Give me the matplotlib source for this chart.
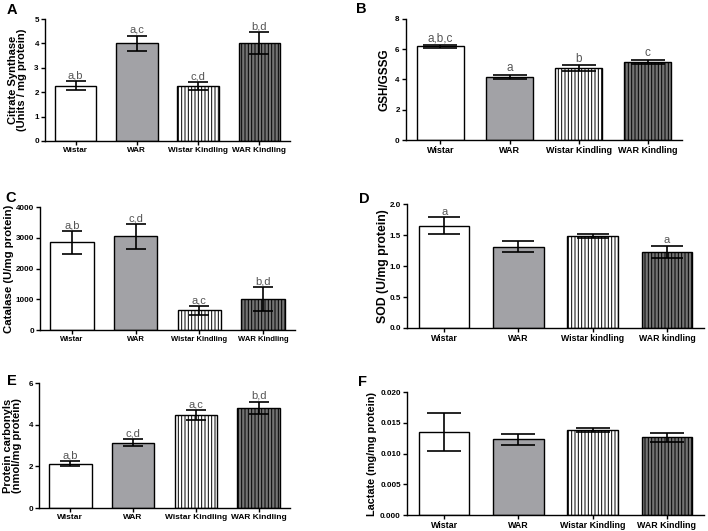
import numpy as np
import matplotlib.pyplot as plt

plt.rcParams['font.family'] = ['Liberation Sans', 'DejaVu Sans']
plt.rcParams['hatch.linewidth'] = 0.7

groups = ['Wistar', 'WAR', 'Wistar Kindling', 'WAR Kindling']
groups_lower = ['Wistar', 'WAR', 'Wistar kindling', 'WAR kindling']

cs_mean = [2.27, 4.00, 2.25, 4.00]
cs_err = [0.19, 0.32, 0.17, 0.45]
cs_marks = ['a,b', 'a,c', 'c,d', 'b,d']

gsh_mean = [6.18, 4.17, 4.75, 5.17]
gsh_err = [0.12, 0.14, 0.20, 0.13]
gsh_marks = ['a,b,c', 'a', 'b', 'c']

cat_mean = [2850, 3050, 636, 1010]
cat_err = [375, 405, 145, 400]
cat_marks = ['a,b', 'c,d', 'a,c', 'b,d']

sod_mean = [1.65, 1.31, 1.485, 1.233]
sod_err = [0.135, 0.086, 0.037, 0.097]
sod_marks = ['a', '', '', 'a']

pc_mean = [2.13, 3.13, 4.46, 4.81]
pc_err = [0.11, 0.16, 0.25, 0.30]
pc_marks = ['a,b', 'c,d', 'a,c', 'b,d']

lac_mean = [0.01355, 0.0123, 0.01382, 0.01263]
lac_err = [0.0031, 0.00095, 0.00028, 0.0007]

colors = ['white', '#a2a2a6', 'white', '#747474']
hatches = [None, None, '|||||', '|||||']
narrow = ['Liberation Sans Narrow', 'Liberation Sans']


def bar_panel(ax, mean, err, marks, labels, ylabel, yticks, fmt, letter, lx, ly,
              xfs=6.3, cap=7.2, mfs=8, yfs=8, labx=-0.11):
    x = np.arange(4)
    for i in range(4):
        ax.bar(x[i], mean[i], width=0.68, color=colors[i], edgecolor='black',
               linewidth=1.0, hatch=hatches[i], zorder=2)
    ax.errorbar(x, mean, yerr=err, fmt='none', ecolor='black', elinewidth=1.2,
                capsize=cap, capthick=1.2, zorder=3)
    ymax = yticks[-1]
    if marks:
        for i in range(4):
            if marks[i]:
                ax.text(x[i], mean[i] + err[i] + ymax * 0.005, marks[i], ha='center',
                        va='bottom', fontsize=mfs, color='#555555')
    ax.set_xlim(-0.5, 3.5)
    ax.set_ylim(0, ymax)
    ax.set_yticks(yticks)
    ax.set_yticklabels([fmt.format(v) for v in yticks], family=narrow,
                       fontweight='bold', fontsize=5.8)
    ax.set_xticks(x)
    ax.set_xticklabels(labels, fontweight='bold', fontsize=xfs, family=narrow)
    ax.set_ylabel(ylabel, fontweight='bold', fontsize=yfs, linespacing=0.95)
    ax.yaxis.label.set_va('center')
    ax.yaxis.set_label_coords(labx, 0.5)
    ax.tick_params(axis='both', length=3, width=1, pad=1.5)
    ax.spines['top'].set_visible(False)
    ax.spines['right'].set_visible(False)
    ax.spines['left'].set_linewidth(1.0)
    ax.spines['bottom'].set_linewidth(1.0)
    ax.figure.text(lx, ly, letter, fontsize=10.5, fontweight='bold', va='top')


fig = plt.figure(figsize=(7.08, 5.31), dpi=100)

axA = fig.add_axes([0.0636, 0.7345, 0.346, 0.2297])
bar_panel(axA, cs_mean, cs_err, cs_marks, groups,
          'Citrate Synthase\n(Units / mg protein)', [0, 1, 2, 3, 4, 5], '{:g}',
          'A', 0.01, 0.994, xfs=5.9, labx=-0.112)

axB = fig.add_axes([0.5734, 0.7363, 0.390, 0.228])
bar_panel(axB, gsh_mean, gsh_err, gsh_marks, groups,
          'GSH/GSSG', [0, 2, 4, 6, 8], '{:g}', 'B', 0.503, 0.996,
          xfs=6.5, cap=12, mfs=8.5, yfs=8.5, labx=-0.076)

axC = fig.add_axes([0.0565, 0.3785, 0.360, 0.2316])
bar_panel(axC, cat_mean, cat_err, cat_marks, groups,
          'Catalase (U/mg protein)', [0, 1000, 2000, 3000, 4000], '{:g}',
          'C', 0.008, 0.640, xfs=5.5, yfs=8.2, labx=-0.122)

axD = fig.add_axes([0.5749, 0.3823, 0.4195, 0.2335])
bar_panel(axD, sod_mean, sod_err, sod_marks, groups_lower,
          'SOD (U/mg protein)', [0, 0.5, 1.0, 1.5, 2.0], '{:.1f}',
          'D', 0.507, 0.638, xfs=6.3, cap=11.5, yfs=8.8, labx=-0.08)

axE = fig.add_axes([0.0551, 0.0433, 0.3545, 0.2354])
bar_panel(axE, pc_mean, pc_err, pc_marks, groups,
          'Protein carbonyls\n(nmol/mg protein)', [0, 2, 4, 6], '{:g}',
          'E', 0.01, 0.296, xfs=6.0, yfs=8.0, labx=-0.105)

axF = fig.add_axes([0.5749, 0.0301, 0.4195, 0.2316])
bar_panel(axF, lac_mean, lac_err, None, groups,
          'Lactate (mg/mg protein)', [0, 0.005, 0.010, 0.015, 0.020], '{:.3f}',
          'F', 0.505, 0.294, xfs=6.4, cap=12, yfs=7.8, labx=-0.118)

fig.savefig('out.png', dpi=100)
